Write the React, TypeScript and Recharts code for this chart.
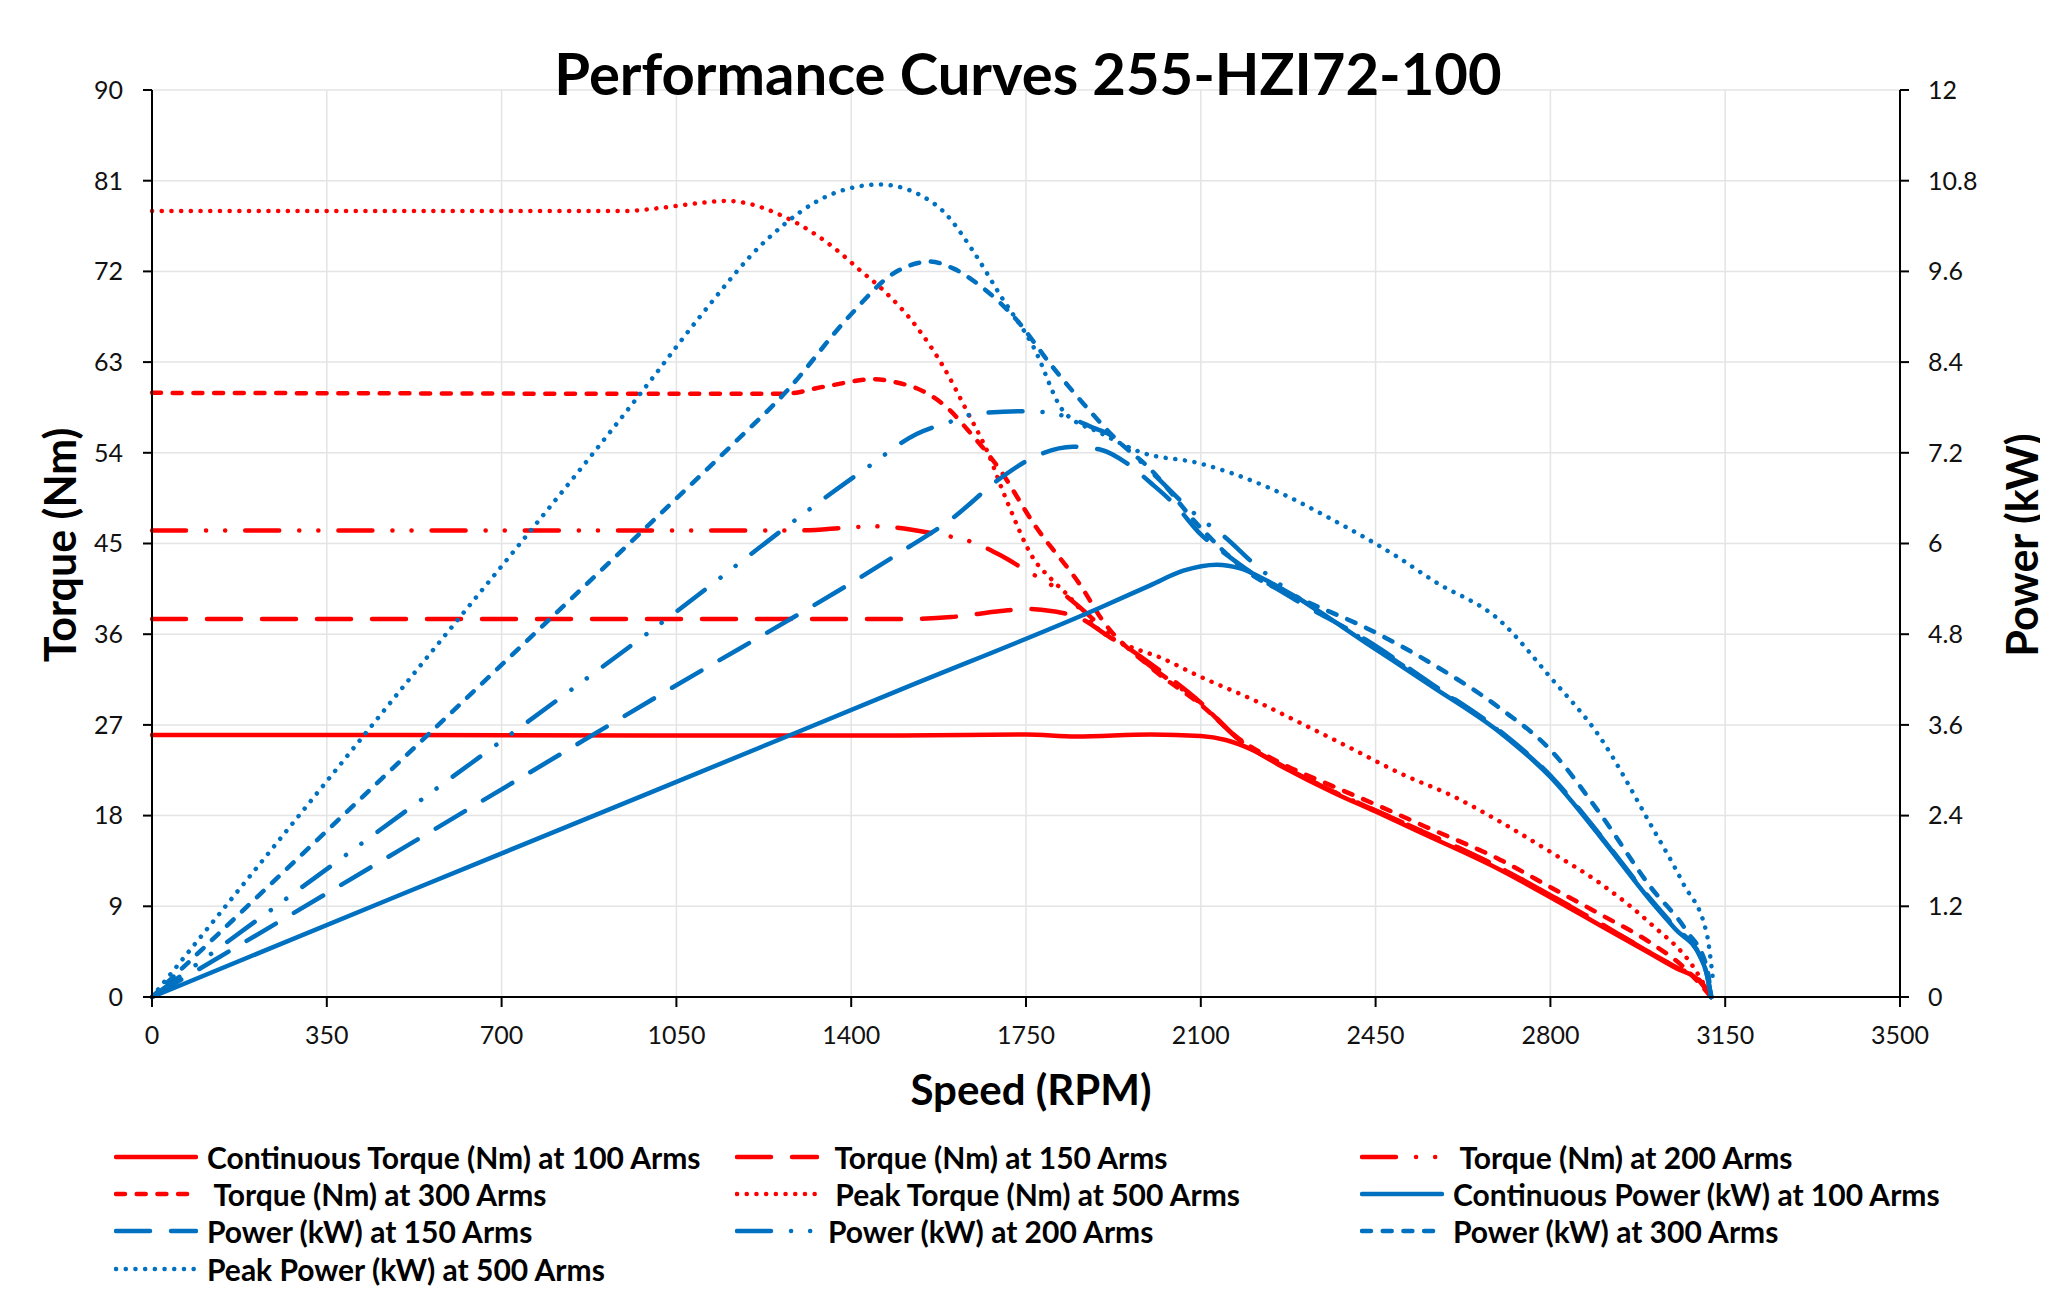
import React from 'react';
import { LineChart, Line, XAxis, YAxis, CartesianGrid } from 'recharts';

const SPEED_TICKS = [0, 350, 700, 1050, 1400, 1750, 2100, 2450, 2800, 3150, 3500];
const TORQUE_TICKS = [0, 9, 18, 27, 36, 45, 54, 63, 72, 81, 90];
const POWER_TICKS = [0, 1.2, 2.4, 3.6, 4.8, 6, 7.2, 8.4, 9.6, 10.8, 12];

// torque (Nm)
const T100_RPM = [0, 500, 1000, 1500, 1750, 1850, 2000, 2100, 2150, 2200, 2265, 2365, 2450, 2550, 2700, 2800, 2900, 3000, 3050, 3100, 3122];
const T100 = [26, 26, 25.95, 25.95, 26.05, 25.85, 26.05, 25.9, 25.5, 24.6, 22.8, 20.3, 18.4, 16.1, 12.6, 9.9, 7.1, 4.3, 2.9, 1.5, 0];

const T150_RPM = [0, 500, 1000, 1500, 1600, 1700, 1750, 1800, 1858, 1918, 1952, 2018, 2100, 2180, 2265, 2365, 2450, 2550, 2700, 2800, 2900, 3000, 3050, 3100, 3122];
const T150 = [37.5, 37.5, 37.5, 37.5, 37.7, 38.3, 38.5, 38.3, 37.6, 35.7, 34.7, 32.4, 29.2, 25.4, 22.9, 20.4, 18.5, 16.3, 12.8, 10.1, 7.3, 4.4, 3.0, 1.6, 0];

const T200_RPM = [0, 500, 1000, 1300, 1398, 1450, 1564, 1650, 1700, 1758, 1791, 1850, 1900, 2000, 2100, 2180, 2265, 2365, 2450, 2550, 2700, 2800, 2900, 3000, 3050, 3100, 3122];
const T200 = [46.3, 46.3, 46.3, 46.3, 46.6, 46.7, 46.0, 45.0, 43.8, 42.1, 41.2, 39.0, 36.8, 32.8, 29.1, 25.4, 22.9, 20.4, 18.5, 16.3, 12.8, 10.1, 7.3, 4.4, 3.0, 1.6, 0];

const T300_RPM = [0, 500, 1000, 1264, 1350, 1444, 1498, 1531, 1598, 1631, 1698, 1765, 1865, 1900, 2000, 2100, 2180, 2265, 2365, 2450, 2550, 2700, 2800, 2900, 3000, 3066, 3122];
const T300 = [59.95, 59.9, 59.85, 59.85, 60.6, 61.3, 60.9, 60.4, 58.2, 56.4, 52.3, 47.0, 40.4, 37.6, 32.7, 29.0, 25.5, 23.1, 20.9, 19.1, 16.9, 13.6, 10.9, 8.2, 5.4, 3.0, 0];

const T500_RPM = [0, 500, 950, 1000, 1050, 1100, 1150, 1197, 1244, 1298, 1364, 1418, 1465, 1531, 1585, 1631, 1671, 1711, 1765, 1800, 1831, 1900, 1952, 2018, 2098, 2200, 2299, 2400, 2499, 2606, 2699, 2800, 2899, 3000, 3086, 3122];
const T500 = [78, 78, 78, 78.2, 78.5, 78.8, 79.0, 78.7, 77.9, 76.6, 74.4, 72.1, 70.1, 66.5, 62.5, 58.2, 54.3, 49.3, 43.5, 41.5, 40.0, 36.3, 34.9, 33.7, 31.8, 29.6, 27.2, 24.7, 22.2, 19.9, 17.4, 14.4, 11.3, 7.3, 3.0, 0];

// power (kW)
const P100_RPM = [0, 500, 1000, 1500, 1898, 2000, 2065, 2132, 2179, 2232, 2299, 2432, 2565, 2699, 2800, 2900, 3000, 3050, 3100, 3112, 3122];
const P100 = [0, 1.36, 2.71, 4.07, 5.15, 5.45, 5.64, 5.72, 5.67, 5.51, 5.26, 4.68, 4.1, 3.5, 2.91, 2.12, 1.28, 0.9, 0.53, 0.33, 0];

const P150_RPM = [0, 500, 1000, 1500, 1600, 1700, 1765, 1844, 1900, 1950, 2000, 2050, 2100, 2150, 2200, 2285, 2432, 2565, 2699, 2800, 2900, 3000, 3050, 3100, 3112, 3122];
const P150 = [0, 1.96, 3.93, 5.89, 6.32, 6.87, 7.14, 7.28, 7.24, 7.07, 6.8, 6.5, 6.12, 5.86, 5.62, 5.27, 4.72, 4.13, 3.52, 2.93, 2.14, 1.3, 0.92, 0.54, 0.34, 0];

const P200_RPM = [0, 500, 1000, 1431, 1531, 1598, 1651, 1751, 1825, 1885, 1918, 2000, 2092, 2151, 2205, 2285, 2432, 2565, 2699, 2800, 2900, 3000, 3050, 3100, 3112, 3122];
const P200 = [0, 2.42, 4.85, 7.0, 7.45, 7.61, 7.72, 7.75, 7.69, 7.53, 7.44, 6.95, 6.37, 6.07, 5.74, 5.33, 4.7, 4.12, 3.51, 2.92, 2.13, 1.29, 0.91, 0.53, 0.33, 0];

const P300_RPM = [0, 500, 1000, 1158, 1270, 1398, 1484, 1558, 1604, 1664, 1731, 1798, 1865, 1932, 1998, 2098, 2199, 2299, 2432, 2499, 2565, 2699, 2800, 2899, 3000, 3072, 3113, 3122];
const P300 = [0, 3.14, 6.28, 7.28, 8.01, 9.02, 9.57, 9.73, 9.64, 9.38, 8.96, 8.38, 7.85, 7.37, 6.99, 6.22, 5.6, 5.27, 4.88, 4.65, 4.4, 3.82, 3.27, 2.43, 1.46, 0.88, 0.4, 0];

const P500_RPM = [0, 500, 1000, 1097, 1231, 1364, 1458, 1538, 1585, 1645, 1698, 1765, 1825, 1900, 1979, 2098, 2232, 2365, 2499, 2565, 2699, 2800, 2899, 3000, 3066, 3113, 3125];
const P500 = [0, 4.08, 8.17, 9.0, 10.02, 10.63, 10.75, 10.61, 10.39, 9.86, 9.29, 8.6, 7.75, 7.46, 7.21, 7.06, 6.75, 6.31, 5.8, 5.51, 4.98, 4.23, 3.44, 2.29, 1.5, 0.84, 0.26];

const RED = '#ff0000';
const BLUE = '#0070c0';

const SOLID = undefined;
const LONG_DASH = '34 21';
const LONG_DASH_DOT_DOT = '34 20 0.1 19 0.1 20';
const SHORT_DASH = '9 11.7';
const DOTTED = '0.1 9.6';

const zip = (rpm: number[], vals: number[]) => rpm.map((r, i) => ({ rpm: r, v: vals[i] }));

const SERIES = [
  { name: 'Continuous Torque (Nm) at 100 Arms', axis: 'torque', color: RED, dash: SOLID, data: zip(T100_RPM, T100) },
  { name: ' Torque (Nm) at 150 Arms', axis: 'torque', color: RED, dash: LONG_DASH, data: zip(T150_RPM, T150) },
  { name: ' Torque (Nm) at 200 Arms', axis: 'torque', color: RED, dash: LONG_DASH_DOT_DOT, data: zip(T200_RPM, T200) },
  { name: ' Torque (Nm) at 300 Arms', axis: 'torque', color: RED, dash: SHORT_DASH, data: zip(T300_RPM, T300) },
  { name: ' Peak Torque (Nm) at 500 Arms', axis: 'torque', color: RED, dash: DOTTED, data: zip(T500_RPM, T500) },
  { name: 'Continuous Power (kW) at 100 Arms', axis: 'power', color: BLUE, dash: SOLID, data: zip(P100_RPM, P100) },
  { name: 'Power (kW) at 150 Arms', axis: 'power', color: BLUE, dash: LONG_DASH, data: zip(P150_RPM, P150) },
  { name: 'Power (kW) at 200 Arms', axis: 'power', color: BLUE, dash: LONG_DASH_DOT_DOT, data: zip(P200_RPM, P200) },
  { name: 'Power (kW) at 300 Arms', axis: 'power', color: BLUE, dash: SHORT_DASH, data: zip(P300_RPM, P300) },
  { name: 'Peak Power (kW) at 500 Arms', axis: 'power', color: BLUE, dash: DOTTED, data: zip(P500_RPM, P500) },
];

const FONT = 'Lato, "Open Sans", sans-serif';
const tickStyle = { fill: '#111', fontSize: 25, fontFamily: FONT };
const axisLine = { stroke: '#000', strokeWidth: 2 };

const App: React.FC = () => (
  <div style={{ position: 'relative', width: 2040, height: 1298, fontFamily: FONT, color: '#000' }}>
    <LineChart width={2040} height={1298} margin={{ top: 82, right: 0, bottom: 249, left: 30 }}>
      <CartesianGrid yAxisId="torque" stroke="#e4e4e4" strokeWidth={1.5} />
      <XAxis
        type="number"
        dataKey="rpm"
        domain={[0, 3500]}
        ticks={SPEED_TICKS}
        interval={0}
        height={60}
        tickSize={10}
        tickMargin={19}
        tick={tickStyle}
        axisLine={axisLine}
        tickLine={axisLine}
      />
      <YAxis
        yAxisId="torque"
        domain={[0, 90]}
        ticks={TORQUE_TICKS}
        interval={0}
        width={114}
        tickSize={9}
        tickMargin={20}
        tick={tickStyle}
        axisLine={axisLine}
        tickLine={axisLine}
      />
      <YAxis
        yAxisId="power"
        orientation="right"
        domain={[0, 12]}
        ticks={POWER_TICKS}
        interval={0}
        width={148}
        tickSize={9}
        tickMargin={19}
        tick={tickStyle}
        tickFormatter={(v: number) => String(Math.round(v * 10) / 10)}
        axisLine={axisLine}
        tickLine={axisLine}
      />
      {SERIES.map((s) => (
        <Line
          key={s.name}
          yAxisId={s.axis}
          data={s.data}
          dataKey="v"
          name={s.name}
          type="monotone"
          stroke={s.color}
          strokeWidth={4.5}
          strokeDasharray={s.dash}
          strokeLinecap="round"
          dot={false}
          activeDot={false}
          isAnimationActive={false}
        />
      ))}
    </LineChart>

    <div style={{ position: 'absolute', left: 0, width: 2040, top: 36, textAlign: 'center', fontSize: 58, lineHeight: '58px', fontWeight: 700 }}>
      Performance Curves 255-HZI72-100
    </div>
    <div style={{ position: 'absolute', left: 51, top: 537, transform: 'translate(-50%, -50%) rotate(-90deg)', fontSize: 43, fontWeight: 700, whiteSpace: 'nowrap' }}>
      Torque (Nm)
    </div>
    <div style={{ position: 'absolute', left: 2013, top: 537, transform: 'translate(-50%, -50%) rotate(-90deg)', fontSize: 43, fontWeight: 700, whiteSpace: 'nowrap' }}>
      Power (kW)
    </div>
    <div style={{ position: 'absolute', left: 0, width: 2046, top: 1060, textAlign: 'center', fontSize: 42, lineHeight: '42px', fontWeight: 700 }}>
      Speed (RPM)
    </div>

    <div style={{ position: 'absolute', left: 106, top: 1130, display: 'grid', gridTemplateColumns: '621px 625px 620px', gridAutoRows: '37.4px' }}>
      {SERIES.map((s) => (
        <div key={s.name} style={{ display: 'flex', alignItems: 'center', whiteSpace: 'pre' }}>
          <svg width={84} height={14} style={{ flex: 'none' }}>
            <line x1={2} y1={7} x2={82} y2={7} stroke={s.color} strokeWidth={4.5} strokeDasharray={s.dash} strokeLinecap="round" />
          </svg>
          <span style={{ marginLeft: 9, fontSize: 30, fontWeight: 700 }}>{s.name}</span>
        </div>
      ))}
    </div>
  </div>
);

export default App;
